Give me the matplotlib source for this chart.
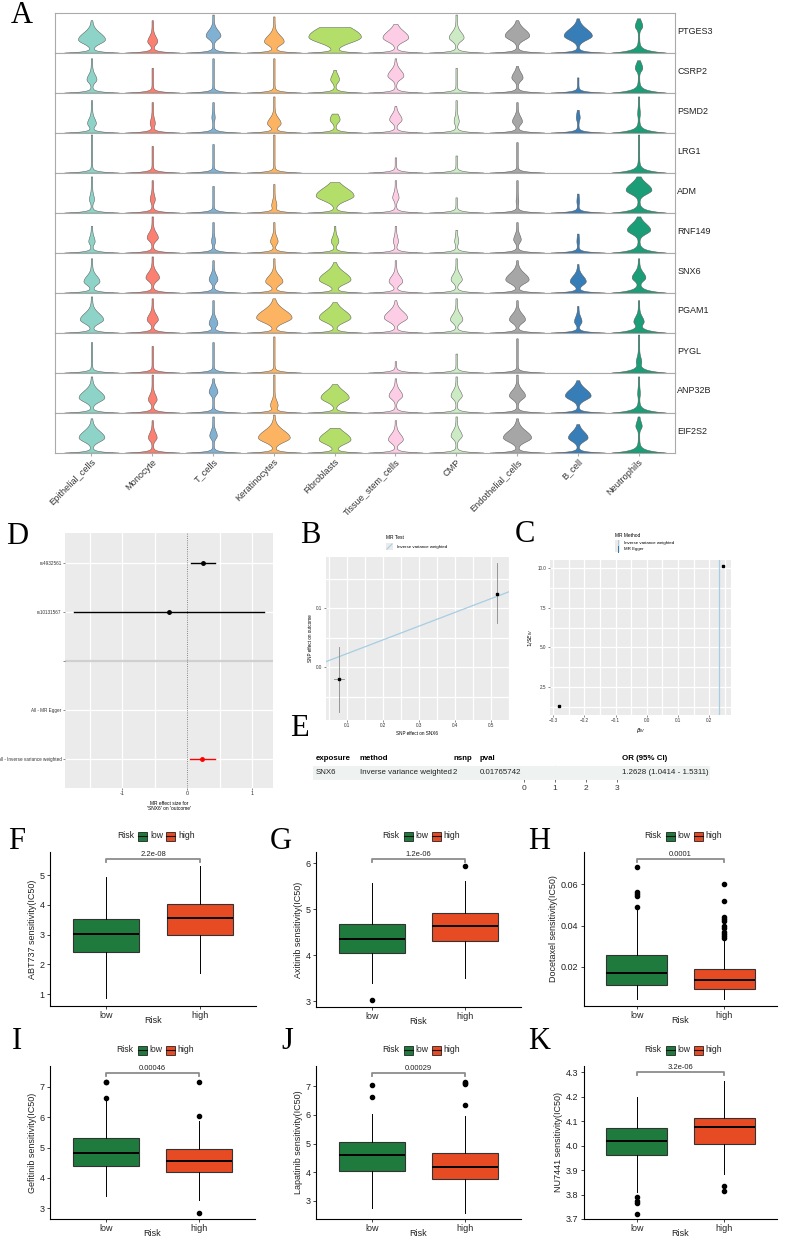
import numpy as np
import matplotlib
matplotlib.use("Agg")
import matplotlib.pyplot as plt
from matplotlib.patches import Rectangle

plt.rcParams['font.family'] = ['Liberation Sans', 'DejaVu Sans']

W, H = 785, 1239
fig = plt.figure(figsize=(W / 100, H / 100), dpi=100)


def ejes(x0, y0, x1, y1):
    # ejes en coordenadas de pixel (origen arriba a la izquierda)
    return fig.add_axes([x0 / W, 1 - y1 / H, (x1 - x0) / W, (y1 - y0) / H])


def letra(x, y, s):
    fig.text(x / W, 1 - y / H, s, fontsize=22, family='Liberation Serif', va='top', ha='left')


# ---------------- A: violines ----------------
genes = ['PTGES3', 'CSRP2', 'PSMD2', 'LRG1', 'ADM', 'RNF149', 'SNX6', 'PGAM1', 'PYGL', 'ANP32B', 'EIF2S2']
celulas = ['Epithelial_cells', 'Monocyte', 'T_cells', 'Keratinocytes', 'Fibroblasts',
           'Tissue_stem_cells', 'CMP', 'Endothelial_cells', 'B_cell', 'Neutrophils']
colores_cel = ['#8DD3C7', '#FB8072', '#80B1D3', '#FDB462', '#B3DE69',
               '#FCCDE5', '#CCEBC5', '#A6A6A6', '#377EB8', '#1B9E77']

ancho_bulbo = [
    [0.21, 0.07, 0.11, 0.15, 0.42, 0.20, 0.11, 0.19, 0.22, 0.05],
    [0.07, 0.00, 0.00, 0.00, 0.06, 0.12, 0.00, 0.08, 0.00, 0.05],
    [0.06, 0.03, 0.015, 0.10, 0.07, 0.09, 0.03, 0.07, 0.02, 0.01],
    [0.00, 0.00, 0.00, 0.00, 0.00, 0.00, 0.00, 0.00, 0.00, 0.00],
    [0.03, 0.03, 0.00, 0.03, 0.30, 0.04, 0.00, 0.01, 0.01, 0.20],
    [0.04, 0.08, 0.02, 0.05, 0.05, 0.03, 0.02, 0.05, 0.01, 0.18],
    [0.12, 0.10, 0.06, 0.13, 0.25, 0.10, 0.08, 0.18, 0.12, 0.10],
    [0.18, 0.08, 0.06, 0.28, 0.25, 0.18, 0.09, 0.12, 0.05, 0.07],
    [0.00, 0.00, 0.00, 0.00, 0.00, 0.00, 0.00, 0.00, 0.00, 0.03],
    [0.20, 0.06, 0.06, 0.05, 0.22, 0.10, 0.08, 0.12, 0.20, 0.01],
    [0.20, 0.06, 0.05, 0.25, 0.25, 0.11, 0.08, 0.22, 0.15, 0.04],
]
pos_bulbo = [
    [0.35, 0.30, 0.45, 0.30, 0.42, 0.40, 0.40, 0.45, 0.45, 0.70],
    [0.35, 0.30, 0.30, 0.30, 0.35, 0.45, 0.30, 0.40, 0.30, 0.65],
    [0.25, 0.25, 0.40, 0.25, 0.35, 0.35, 0.30, 0.30, 0.40, 0.50],
    [0.30, 0.30, 0.30, 0.30, 0.30, 0.30, 0.30, 0.30, 0.30, 0.30],
    [0.35, 0.35, 0.30, 0.20, 0.45, 0.40, 0.30, 0.30, 0.30, 0.60],
    [0.30, 0.40, 0.30, 0.30, 0.30, 0.30, 0.30, 0.35, 0.30, 0.60],
    [0.30, 0.40, 0.35, 0.30, 0.35, 0.30, 0.35, 0.35, 0.30, 0.40],
    [0.35, 0.35, 0.25, 0.40, 0.40, 0.40, 0.35, 0.35, 0.30, 0.30],
    [0.30, 0.30, 0.30, 0.30, 0.30, 0.30, 0.30, 0.30, 0.30, 0.30],
    [0.40, 0.35, 0.55, 0.20, 0.40, 0.45, 0.45, 0.45, 0.45, 0.50],
    [0.40, 0.40, 0.45, 0.40, 0.35, 0.35, 0.45, 0.40, 0.40, 0.70],
]
altura_max = [
    [0.85, 0.85, 1.00, 0.95, 0.67, 0.75, 1.00, 0.85, 0.90, 0.90],
    [0.90, 0.65, 0.90, 0.90, 0.60, 0.90, 0.65, 0.70, 0.40, 0.85],
    [0.85, 0.80, 0.80, 0.95, 0.50, 0.70, 0.85, 0.80, 0.60, 0.95],
    [1.00, 0.70, 0.75, 1.00, 0.00, 0.40, 0.45, 0.80, 0.00, 1.00],
    [0.95, 0.85, 0.70, 0.75, 0.80, 0.85, 0.40, 0.85, 0.50, 0.95],
    [0.70, 0.95, 0.80, 0.80, 0.70, 0.70, 0.60, 0.80, 0.50, 0.95],
    [0.90, 0.95, 0.85, 0.90, 0.80, 0.85, 0.90, 0.85, 0.75, 0.90],
    [0.95, 0.90, 0.85, 0.90, 0.80, 0.85, 0.90, 0.85, 0.70, 0.85],
    [0.80, 0.70, 0.80, 0.95, 0.00, 0.30, 0.50, 0.90, 0.00, 1.00],
    [0.95, 1.00, 0.90, 1.00, 0.75, 0.90, 0.95, 1.00, 0.85, 0.95],
    [0.90, 0.85, 0.95, 1.00, 0.65, 0.85, 0.95, 0.90, 0.75, 0.95],
]
base_cel = [0.03] * 9 + [0.06]


def violin(ax, x, pos, hw, top, color, base_h):
    if top <= 0:
        return
    y = np.linspace(0, top, 300)
    sd = 0.08 + 0.25 * hw
    s = np.where(y < pos, sd * 0.8, sd * 1.3)
    w = 0.45 * np.exp(-y / base_h) + hw * np.exp(-0.5 * ((y - pos) / s) ** 2) + 0.012
    w = np.minimum(w, 0.45)
    ax.fill_betweenx(y + 0.01, x - w, x + w, facecolor=color, edgecolor='#555555', lw=0.35)


for i, g in enumerate(genes):
    ax = ejes(55, 13 + 40 * i, 675, 53 + 40 * i)
    ax.set_xlim(0.4, 10.6)
    ax.set_ylim(0, 1.05)
    for j in range(len(celulas)):
        violin(ax, j + 1, pos_bulbo[i][j], ancho_bulbo[i][j], altura_max[i][j], colores_cel[j], base_cel[j])
    ax.set_yticks([])
    for s in ax.spines.values():
        s.set_color('#AAAAAA')
        s.set_linewidth(0.8)
    ax.text(1.004, 0.55, g, transform=ax.transAxes, va='center', ha='left', fontsize=6.5, color='#222222')
    if i == len(genes) - 1:
        ax.set_xticks(range(1, 11))
        ax.set_xticklabels(celulas, rotation=45, ha='right', rotation_mode='anchor', fontsize=6.6, color='#333333')
        ax.tick_params(axis='x', length=2, color='#AAAAAA', pad=1)
    else:
        ax.set_xticks([])

letra(11, 1, 'A')

# ---------------- D: forest de SNPs ----------------
snps = ['rs4932561', 'rs10131567', '', 'All - MR Egger', 'All - Inverse variance weighted']
snp_b = [0.25, -0.28, np.nan, np.nan, 0.23]
snp_lo = [0.06, -1.74, np.nan, np.nan, 0.05]
snp_hi = [0.43, 1.18, np.nan, np.nan, 0.43]
snp_y = [5, 4, 3, 2, 1]

ax = ejes(65, 533, 273, 788)
ax.set_facecolor('#EBEBEB')
ax.set_xlim(-1.88, 1.32)
ax.set_ylim(0.41, 5.61)
for v in [-1.5, -1, -0.5, 0.5, 1]:
    ax.axvline(v, color='white', lw=0.9, zorder=0)
for yy in [1, 2, 4, 5]:
    ax.axhline(yy, color='white', lw=0.9, zorder=0)
ax.axhline(3, color='#D0D0D0', lw=1.6, zorder=1)
ax.axvline(0, color='#666666', lw=0.6, ls=':', zorder=1)
for k in range(len(snps)):
    if np.isnan(snp_b[k]):
        continue
    col = 'red' if k == 4 else 'black'
    ax.plot([snp_lo[k], snp_hi[k]], [snp_y[k]] * 2, color=col, lw=1.0, zorder=3)
    ax.plot(snp_b[k], snp_y[k], 'o', color=col, ms=2.5, zorder=4)
ax.set_yticks(snp_y)
ax.set_yticklabels(snps, fontsize=3.3)
ax.set_xticks([-1, 0, 1])
ax.set_xticklabels(['-1', '0', '1'], fontsize=4)
ax.tick_params(length=1.5, width=0.4, pad=1, colors='#333333')
ax.set_xlabel("MR effect size for\n'SNX6' on 'outcome'", fontsize=3.5, labelpad=3)
for s in ax.spines.values():
    s.set_visible(False)
letra(6, 522, 'D')

# ---------------- B: scatter MR ----------------
b_x = [0.078, 0.517]
b_y = [-0.020, 0.125]
b_xerr = [0.015, 0.0]
b_ylo = [-0.076, 0.075]
b_yhi = [0.034, 0.176]
pend_ivw = 0.233

ax = ejes(326, 557, 509, 720)
ax.set_facecolor('#EBEBEB')
ax.set_xlim(0.042, 0.55)
ax.set_ylim(-0.089, 0.187)
for v in np.arange(0.05, 0.56, 0.05):
    ax.axvline(v, color='white', lw=0.9, zorder=0)
for v in np.arange(-0.05, 0.19, 0.05):
    ax.axhline(v, color='white', lw=0.9, zorder=0)
xx = np.array(ax.get_xlim())
ax.plot(xx, pend_ivw * xx, color='#A6CEE3', lw=0.9, zorder=2)
for k in range(2):
    ax.plot([b_x[k], b_x[k]], [b_ylo[k], b_yhi[k]], color='#888888', lw=0.6, zorder=2)
    if b_xerr[k] > 0:
        ax.plot([b_x[k] - b_xerr[k], b_x[k] + b_xerr[k]], [b_y[k]] * 2, color='#888888', lw=0.6, zorder=2)
    ax.plot(b_x[k], b_y[k], 's', color='black', ms=2, zorder=3)
ax.set_xticks([0.1, 0.2, 0.3, 0.4, 0.5])
ax.set_yticks([0.0, 0.1])
ax.tick_params(labelsize=3.3, length=1.5, width=0.4, pad=1, colors='#333333')
ax.set_xlabel('SNP effect on SNX6', fontsize=3.3, labelpad=2)
ax.set_ylabel('SNP effect on outcome', fontsize=3.3, labelpad=2)
for s in ax.spines.values():
    s.set_visible(False)
fig.text(386 / W, 1 - 537 / H, 'MR Test', fontsize=3.5, va='center')
fig.patches.append(Rectangle((386 / W, 1 - 550 / H), 7 / W, 7 / H, transform=fig.transFigure,
                             facecolor='#EBEBEB', edgecolor='none'))
fig.lines.append(plt.Line2D([387 / W, 392 / W], [1 - 549 / H, 1 - 544 / H], transform=fig.transFigure,
                            color='#A6CEE3', lw=0.8))
fig.text(397 / W, 1 - 546.5 / H, 'Inverse variance weighted', fontsize=3.2, va='center')
letra(300, 521, 'B')

# ---------------- C: funnel ----------------
c_beta = [0.245, -0.28]
c_prec = [10.1, 1.3]
ivw_beta = 0.233

ax = ejes(550, 560, 731, 715)
ax.set_facecolor('#EBEBEB')
ax.set_xlim(-0.31, 0.27)
ax.set_ylim(0.75, 10.5)
for v in np.arange(-0.3, 0.27, 0.05):
    ax.axvline(v, color='white', lw=0.9, zorder=0)
for v in np.arange(1.25, 10.6, 1.25):
    ax.axhline(v, color='white', lw=0.9, zorder=0)
ax.axvline(ivw_beta, color='#A6CEE3', lw=0.9, zorder=2)
ax.plot(c_beta, c_prec, 's', color='black', ms=2, zorder=3)
ax.set_xticks([-0.3, -0.2, -0.1, 0.0, 0.1, 0.2])
ax.set_yticks([2.5, 5.0, 7.5, 10.0])
ax.tick_params(labelsize=3.3, length=1.5, width=0.4, pad=1, colors='#333333')
ax.set_xlabel(r'$\beta_{IV}$', fontsize=4, labelpad=2)
ax.set_ylabel(r'$1/SE_{IV}$', fontsize=4, labelpad=2)
for s in ax.spines.values():
    s.set_visible(False)
fig.text(615 / W, 1 - 535 / H, 'MR Method', fontsize=3.5, va='center')
for k, (lab, col) in enumerate([('Inverse variance weighted', '#A6CEE3'), ('MR Egger', '#1F78B4')]):
    yk = 543 + 6 * k
    fig.patches.append(Rectangle((615 / W, 1 - (yk + 3) / H), 5 / W, 6 / H, transform=fig.transFigure,
                                 facecolor='#EBEBEB', edgecolor='none'))
    fig.lines.append(plt.Line2D([617.5 / W] * 2, [1 - (yk + 3) / H, 1 - (yk - 3) / H], transform=fig.transFigure,
                                color=col, lw=0.7))
    fig.text(624 / W, 1 - yk / H, lab, fontsize=3.2, va='center')
letra(515, 520, 'C')

# ---------------- E: tabla ----------------
tab_cols = ['exposure', 'method', 'nsnp', 'pval']
tab_vals = ['SNX6', 'Inverse variance weighted', '2', '0.01765742']
tab_x = [316, 360, 453, 480]
or_txt = '1.2628 (1.0414 - 1.5311)'
or_val, or_lo, or_hi = 1.2628, 1.0414, 1.5311

fig.patches.append(Rectangle((313 / W, 1 - 780 / H), (710 - 313) / W, 14 / H, transform=fig.transFigure,
                             facecolor='#EEF3F1', edgecolor='none', zorder=0))
for c, v, x in zip(tab_cols, tab_vals, tab_x):
    fig.text(x / W, 1 - 759 / H, c, fontsize=5.7, fontweight='bold', va='center')
    fig.text(x / W, 1 - 773 / H, v, fontsize=5.7, va='center', color='#222222')
fig.text(622 / W, 1 - 759 / H, 'OR (95% CI)', fontsize=5.7, fontweight='bold', va='center')
fig.text(622 / W, 1 - 773 / H, or_txt, fontsize=5.7, va='center', color='#222222')

ax = ejes(514, 765, 622, 778)
ax.patch.set_alpha(0)
ax.set_xlim(-0.32, 3.16)
ax.set_ylim(0, 1)
ax.axvline(1, color='#777777', lw=0.5, ls=':')
ax.plot([or_lo, or_hi], [0.55, 0.55], color='#333333', lw=0.6)
ax.plot(or_val, 0.55, 's', color='#333333', ms=1.8)
ax.set_xticks([0, 1, 2, 3])
ax.set_yticks([])
ax.tick_params(axis='x', labelsize=6, length=3, width=0.5, pad=2, colors='#333333')
for k in ['left', 'right', 'top']:
    ax.spines[k].set_visible(False)
ax.spines['bottom'].set_bounds(0, 3)
ax.spines['bottom'].set_linewidth(0.5)
letra(290, 714, 'E')

# ---------------- F-K: cajas ----------------
verde, rojo = '#1F7A3D', '#E64B24'

paneles = [
    # letra, eje y, (low), fliers low, (high), fliers high, p, rect px, (v1,px1,v2,px2), yticks, y corchete
    ('F', 'ABT737 sensitivity(IC50)', (0.87, 2.43, 3.03, 3.53, 4.95), [], (1.72, 3.0, 3.55, 4.03, 5.3), [],
     '2.2e-08', (50, 852, 256, 1006), (4, 905, 1, 994), [1, 2, 3, 4, 5], 5.55),
    ('G', 'Axitinib sensitivity(IC50)', (3.39, 4.04, 4.35, 4.67, 5.57), [3.02], (3.5, 4.3, 4.63, 4.92, 5.6), [5.93],
     '1.2e-06', (316, 852, 521, 1007), (5, 909, 3, 1001), [3, 4, 5, 6], 6.09),
    ('H', 'Docetaxel sensitivity(IC50)', (0.0047, 0.0115, 0.0172, 0.0259, 0.0475), [0.049, 0.054, 0.055, 0.056, 0.068],
     (0.0047, 0.0094, 0.0138, 0.0191, 0.033),
     [0.034, 0.035, 0.036, 0.037, 0.039, 0.040, 0.042, 0.043, 0.044, 0.052, 0.060],
     '0.0001', (584, 852, 777, 1006), (0.06, 884, 0.02, 967), [0.02, 0.04, 0.06], 0.072),
    ('I', 'Gefitinib sensitivity(IC50)', (3.4, 4.39, 4.82, 5.31, 6.57), [6.65, 7.15, 7.18],
     (3.26, 4.19, 4.55, 4.95, 5.89), [6.05, 7.15, 2.83],
     '0.00046', (50, 1066, 255, 1219), (7, 1087, 3, 1208), [3, 4, 5, 6, 7], 7.45),
    ('J', 'Lapatinib sensitivity(IC50)', (2.76, 4.03, 4.6, 5.05, 6.03), [6.63, 7.02],
     (2.58, 3.77, 4.18, 4.67, 5.97), [6.33, 7.08, 7.12, 7.15],
     '0.00029', (316, 1066, 521, 1219), (7, 1086, 3, 1201), [3, 4, 5, 6, 7], 7.45),
    ('K', 'NU7441 sensitivity(IC50)', (3.81, 3.963, 4.02, 4.073, 4.2), [3.79, 3.775, 3.765, 3.722],
     (3.885, 4.006, 4.075, 4.113, 4.265), [3.835, 3.815],
     '3.2e-06', (584, 1066, 777, 1219), (4.3, 1072, 3.7, 1219), [3.7, 3.8, 3.9, 4.0, 4.1, 4.2, 4.3], 4.30),
]
letras_pos = {'F': (8, 827), 'G': (270, 827), 'H': (528, 827), 'I': (12, 1027), 'J': (281, 1027), 'K': (528, 1027)}
ley_y = {'F': 836, 'G': 836, 'H': 836, 'I': 1050, 'J': 1050, 'K': 1050}


def leyenda(xc, y):
    fig.text((xc - 36) / W, 1 - y / H, 'Risk', fontsize=6.2, va='center', color='#222222')
    for dx, col, lab in [(-15, verde, 'low'), (13, rojo, 'high')]:
        x0 = xc + dx
        fig.patches.append(Rectangle((x0 / W, 1 - (y + 4.5) / H), 9 / W, 9 / H, transform=fig.transFigure,
                                     facecolor=col, edgecolor='#222222', lw=0.6))
        fig.lines.append(plt.Line2D([x0 / W, (x0 + 9) / W], [1 - y / H] * 2, transform=fig.transFigure,
                                    color='#111111', lw=0.8))
        fig.text((x0 + 12) / W, 1 - y / H, lab, fontsize=6.2, va='center', color='#222222')


for (let, ylab, s_low, f_low, s_high, f_high, pv, rect, mapa, yt, ycor) in paneles:
    x0, y0, x1, y1 = rect
    v1, p1, v2, p2 = mapa
    esc = (p2 - p1) / (v2 - v1)
    ylo = v1 + (y1 - p1) / esc
    yhi = v1 + (y0 - p1) / esc
    ax = ejes(x0, y0, x1, y1)
    stats = []
    for s, fl in [(s_low, f_low), (s_high, f_high)]:
        stats.append(dict(whislo=s[0], q1=s[1], med=s[2], q3=s[3], whishi=s[4], fliers=fl))
    bp = ax.bxp(stats, positions=[1, 2], widths=0.7, patch_artist=True, showfliers=True,
                boxprops=dict(edgecolor='#333333', lw=0.8),
                medianprops=dict(color='black', lw=1.4),
                whiskerprops=dict(color='black', lw=0.7),
                capprops=dict(visible=False),
                flierprops=dict(marker='o', markerfacecolor='black', markeredgecolor='black', markersize=3))
    for patch, col in zip(bp['boxes'], [verde, rojo]):
        patch.set_facecolor(col)
    ax.set_xlim(0.4, 2.6)
    ax.set_ylim(ylo, yhi)
    d = (yhi - ylo) * 0.02
    ax.plot([1, 1, 2, 2], [ycor - d, ycor, ycor, ycor - d], color='#8C8C8C', lw=1.3, clip_on=False)
    ax.text(1.5, ycor + d * 0.3, pv, ha='center', va='bottom', fontsize=5.5, color='#222222')
    ax.set_xticks([1, 2])
    ax.set_xticklabels(['low', 'high'], fontsize=6.5)
    ax.set_yticks(yt)
    ax.tick_params(labelsize=6.5, length=2.5, width=0.6, pad=1.5, colors='#222222')
    ax.tick_params(axis='x', pad=0.8)
    ax.set_xlabel('Risk', fontsize=6.5, labelpad=-2.5, color='#222222')
    ax.set_ylabel(ylab, fontsize=6.5, labelpad=2, color='#222222')
    ax.spines['top'].set_visible(False)
    ax.spines['right'].set_visible(False)
    ax.spines['left'].set_linewidth(0.8)
    ax.spines['bottom'].set_linewidth(0.8)
    letra(*letras_pos[let], let)
    leyenda((x0 + x1) / 2, ley_y[let])

fig.savefig('out.png', dpi=100)
